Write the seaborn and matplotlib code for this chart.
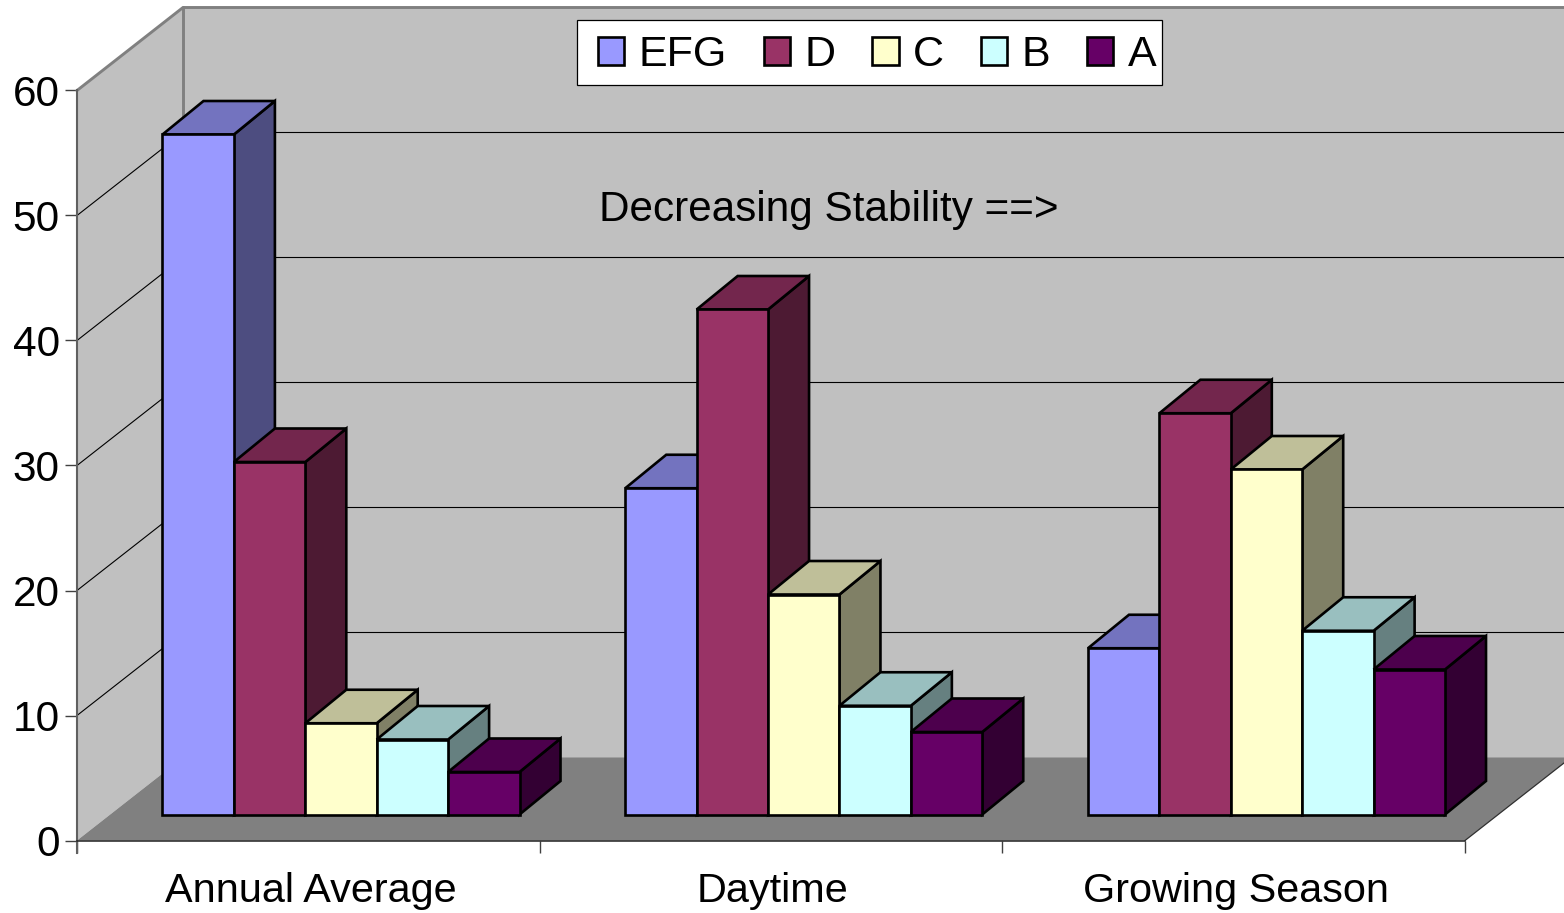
import matplotlib
matplotlib.use('Agg')
import matplotlib.pyplot as plt
from matplotlib.colors import to_rgb
from matplotlib.patches import Polygon, Rectangle
import pandas as pd
import seaborn as sns

# --- data ---
categorias = ['Annual Average', 'Daytime', 'Growing Season']
series = ['EFG', 'D', 'C', 'B', 'A']
cores = ['#9999FF', '#993366', '#FFFFCC', '#CCFFFF', '#660066']
efg = [54.4, 26.1, 13.3]
d = [28.2, 40.4, 32.1]
c = [7.3, 17.6, 27.6]
b = [6.0, 8.7, 14.7]
a = [3.4, 6.6, 11.6]
ticks_y = [0, 10, 20, 30, 40, 50, 60]

# --- scale of the picture: pixels per unit and pixels per category ---
PX_Y = 12.5
PX_X = 462.75
X0_PX = 341.0
Y0_PX = 814.5


def dx(px):
    return px / PX_X


def dy(px):
    return px / PX_Y


def xd(px):
    return (px - X0_PX) / PX_X


def yd(py):
    return (Y0_PX - py) / PX_Y


# depth of the bars, the box and the front plane
BAR_DX, BAR_DY = dx(41), dy(33.5)
WALL_DX, WALL_DY = dx(106), dy(83)
Y_FRENTE = yd(840.5)
X_ESQ = xd(77)
X_DIR = xd(1465)

sns.set_theme(style='white')
plt.rcParams['font.family'] = ['Liberation Sans', 'DejaVu Sans']
LW_BARRA = 1.9

df = pd.DataFrame({'categoria': categorias, 'EFG': efg, 'D': d, 'C': c, 'B': b, 'A': a})
df_plot = df.melt(id_vars='categoria', var_name='serie', value_name='valor')

fig = plt.figure(figsize=(15.64, 9.13), dpi=100)
ax = fig.add_axes([0, 0, 1, 1])
sns.barplot(
    data=df_plot, x='categoria', y='valor', hue='serie', hue_order=series,
    palette=cores, saturation=1, width=0.7715, gap=0, errorbar=None,
    edgecolor='black', linewidth=LW_BARRA, ax=ax
)
ax.set_facecolor('white')
ax.set_xlim(xd(0), xd(1564))
ax.set_ylim(yd(913), yd(0))
ax.set_xlabel('')
ax.set_ylabel('')

# --- walls and floor ---
topo = Y_FRENTE + 60
fundo_x = X_ESQ + WALL_DX
x_fim = X_DIR + WALL_DX
ax.add_patch(Polygon([(fundo_x, Y_FRENTE + WALL_DY), (fundo_x, topo + WALL_DY),
                      (x_fim, topo + WALL_DY), (x_fim, Y_FRENTE + WALL_DY)],
                     fc='#C0C0C0', ec='none', zorder=1))
ax.add_patch(Polygon([(X_ESQ, Y_FRENTE), (X_ESQ, topo), (fundo_x, topo + WALL_DY),
                      (fundo_x, Y_FRENTE + WALL_DY)],
                     fc='#C0C0C0', ec='none', zorder=1))
ax.add_patch(Polygon([(X_ESQ, Y_FRENTE), (fundo_x, Y_FRENTE + WALL_DY),
                      (x_fim, Y_FRENTE + WALL_DY), (X_DIR, Y_FRENTE)],
                     fc='#808080', ec='none', zorder=1.1))

for v in ticks_y[1:-1]:
    y_v = Y_FRENTE + v
    ax.plot([X_ESQ, fundo_x, x_fim], [y_v, y_v + WALL_DY, y_v + WALL_DY],
            color='black', lw=0.8, zorder=1.5)

# gray outline of the box
ax.plot([X_ESQ, fundo_x, x_fim], [topo, topo + WALL_DY, topo + WALL_DY],
        color='#808080', lw=2.1, zorder=1.6)
ax.plot([fundo_x, fundo_x], [topo + WALL_DY, Y_FRENTE + WALL_DY],
        color='#808080', lw=2.1, zorder=1.6)
ax.plot([X_DIR, x_fim], [Y_FRENTE, Y_FRENTE + WALL_DY], color='#303030', lw=0.9, zorder=1.6)

# --- 3d faces, built from the bars seaborn drew ---
for i, container in enumerate(ax.containers):
    cor = to_rgb(cores[i])
    cor_topo = tuple(0.75 * x for x in cor)
    cor_lado = tuple(0.5 * x for x in cor)
    z = 3 + i
    for barra in container:
        x0 = barra.get_x()
        x1 = x0 + barra.get_width()
        h = barra.get_height()
        barra.set_zorder(z + 0.2)
        ax.add_patch(Polygon([(x1, 0), (x1 + BAR_DX, BAR_DY), (x1 + BAR_DX, h + BAR_DY), (x1, h)],
                             fc=cor_lado, ec='black', lw=LW_BARRA, joinstyle='miter', zorder=z))
        ax.add_patch(Polygon([(x0, h), (x0 + BAR_DX, h + BAR_DY), (x1 + BAR_DX, h + BAR_DY), (x1, h)],
                             fc=cor_topo, ec='black', lw=LW_BARRA, joinstyle='miter', zorder=z + 0.1))

# --- axes on the front plane ---
sns.despine(ax=ax, top=True, right=True)
ax.spines['left'].set_position(('data', X_ESQ))
ax.spines['left'].set_bounds(Y_FRENTE - dy(12), topo)
ax.spines['left'].set_color('#606060')
ax.spines['left'].set_linewidth(1.5)
ax.spines['left'].set_zorder(2)
ax.spines['bottom'].set_position(('data', Y_FRENTE))
ax.spines['bottom'].set_bounds(X_ESQ, X_DIR)
ax.spines['bottom'].set_color('#202020')
ax.spines['bottom'].set_linewidth(1.1)
ax.spines['bottom'].set_zorder(2)

ax.set_yticks([Y_FRENTE + v for v in ticks_y], [str(v) for v in ticks_y])
ax.tick_params(axis='y', left=True, direction='out', length=8.5, width=1, color='#404040',
               labelsize=30.5, labelcolor='black', pad=4)

limites = [X_ESQ + (X_DIR - X_ESQ) * k / 3 for k in range(4)]
centros = [(limites[k] + limites[k + 1]) / 2 + dx(2) for k in range(3)]
ax.set_xticks(limites, [''] * 4)
ax.set_xticks(centros, categorias, minor=True)
ax.tick_params(axis='x', which='major', bottom=True, direction='out', length=8.5, width=1, color='#404040')
ax.tick_params(axis='x', which='minor', bottom=False, labelsize=29.8, labelcolor='black', pad=19)

ax.text(xd(829), yd(210), 'Decreasing Stability ==>', fontsize=30.4, color='black',
        ha='center', va='center', zorder=2)

# legend box is wider on the left than the entries, so it is drawn apart
ax.add_patch(Rectangle((xd(577), yd(85)), dx(585), dy(65), fc='white', ec='black', lw=0.9, zorder=19))
sns.move_legend(
    ax, 'center', bbox_to_anchor=(877 / 1564, 1 - 55 / 913), bbox_transform=fig.transFigure,
    ncol=5, title=None, fontsize=31, labelcolor='black', frameon=False, handlelength=0.62,
    handleheight=0.62, handletextpad=0.33, columnspacing=0.85, borderpad=0, borderaxespad=0
)
leg = ax.get_legend()
leg.set_zorder(20)

plt.savefig('out.png', dpi=100)
plt.close()
